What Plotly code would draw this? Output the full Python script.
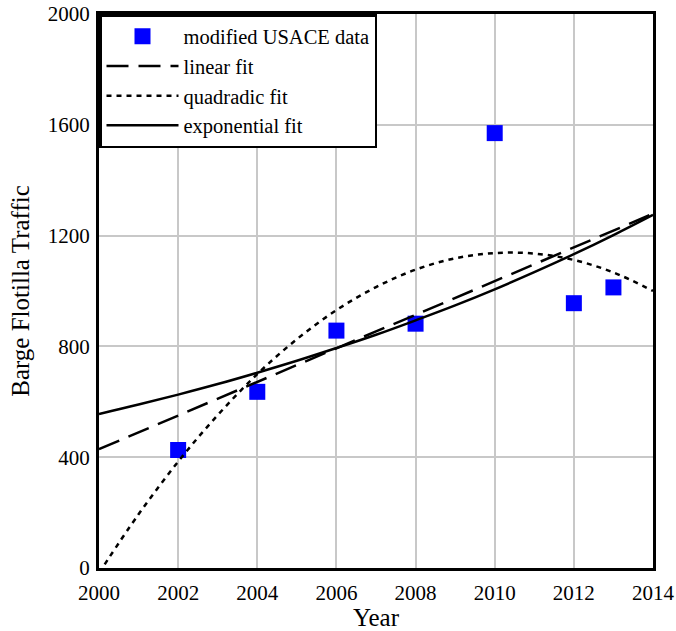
import plotly.graph_objects as go

# observed data
years = [2002, 2004, 2006, 2008, 2010, 2012, 2013]
traffic = [426, 636, 857, 882, 1570, 956, 1013]

# fitted curves, one value per year
fit_years = list(range(2000, 2015))
linear_fit = [429, 490, 550, 611, 672, 732, 793, 854, 914, 975, 1036, 1096, 1157, 1218, 1279]
quad_fit = [-18, 194, 384, 552, 700, 826, 931, 1014, 1077, 1118, 1137, 1135, 1112, 1067, 1000]
exp_fit = [556, 590, 626, 664, 705, 748, 794, 842, 894, 948, 1006, 1068, 1133, 1202, 1275]

font = "Liberation Serif, Times New Roman, serif"

fig = go.Figure()
fig.add_trace(go.Scatter(x=years, y=traffic, mode="markers", name="modified USACE data",
                         marker=dict(symbol="square", size=16, color="#0000ff")))
fig.add_trace(go.Scatter(x=fit_years, y=linear_fit, mode="lines", name="linear fit",
                         line=dict(color="black", width=2.5, dash="22px,10px")))
fig.add_trace(go.Scatter(x=fit_years, y=quad_fit, mode="lines", name="quadradic fit",
                         line=dict(color="black", width=2.5, dash="5px,5px", shape="spline")))
fig.add_trace(go.Scatter(x=fit_years, y=exp_fit, mode="lines", name="exponential fit",
                         line=dict(color="black", width=2.5, shape="spline")))

fig.update_layout(
    width=676, height=631,
    margin=dict(l=99, r=23, t=14, b=63),
    paper_bgcolor="white", plot_bgcolor="white",
    font=dict(family=font, size=21, color="black"),
    legend=dict(x=0, y=1, xanchor="left", yanchor="top", bgcolor="white",
                bordercolor="black", borderwidth=2.5, font=dict(size=20.5),
                tracegroupgap=0, itemwidth=72),
)
fig.update_xaxes(range=[2000, 2014], dtick=2, tick0=2000, showgrid=True, gridcolor="#c8c8c8",
                 gridwidth=1.5, showline=True, linecolor="black", linewidth=3, mirror=True,
                 ticks="", zeroline=False, automargin=False, ticklabelstandoff=4,
                 title=dict(text="Year", standoff=10))
fig.update_yaxes(range=[0, 2000], dtick=400, showgrid=True, gridcolor="#c8c8c8",
                 gridwidth=1.5, showline=True, linecolor="black", linewidth=3, mirror=True,
                 ticks="", zeroline=False, automargin=False, ticklabelstandoff=2,
                 title=dict(text="Barge Flotilla Traffic", standoff=12))

fig.write_html("out.html", config={"displayModeBar": False},
               post_script="document.body.style.margin='0';")
